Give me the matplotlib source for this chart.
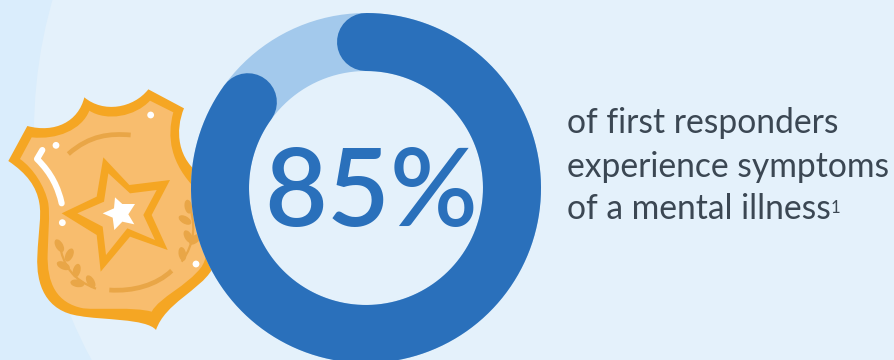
import numpy as np
import matplotlib
matplotlib.use('Agg')
import matplotlib.pyplot as plt
from matplotlib.path import Path
from matplotlib.patches import PathPatch, Circle, Ellipse, Polygon

# --- data ---
share = 85
caption_lines = ['of first responders', 'experience symptoms', 'of a mental illness']
footnote = '1'

BLUE = '#2a70bb'
TRACK = '#a3c9ec'
BG_LEFT = '#daedfc'
BG_RIGHT = '#e4f1fb'
TEXT = '#3b4753'
ORANGE = '#f5a623'
ORANGE_FILL = '#f8bd6e'
ORANGE_DARK = '#e9a647'

W, H = 895, 360
fig = plt.figure(figsize=(W / 100, H / 100), dpi=100, facecolor=BG_LEFT)
ax = fig.add_axes([0, 0, 1, 1])
ax.set_xlim(0, W)
ax.set_ylim(H, 0)
ax.axis('off')

# big pale disc behind everything
ax.add_patch(Circle((514, 132), 480, fc=BG_RIGHT, ec='none', zorder=0))


def px(x, y):
    # badge was sketched at 3x, origin (0, 80)
    return (x / 3, y / 3 + 80)


def bez(start, *segs):
    verts = [px(*start)]
    codes = [Path.MOVETO]
    for seg in segs:
        if len(seg) == 1:
            verts.append(px(*seg[0]))
            codes.append(Path.LINETO)
        else:
            verts += [px(*p) for p in seg]
            codes += [Path.CURVE4] * 3
    return Path(verts, codes)


def flat(points, color, z):
    ax.add_patch(Polygon([px(*p) for p in points], closed=True, fc=color, ec='none', zorder=z))


# --- badge ---
shield_outer = bez((25, 243),
                   [(82, 138)],
                   [(165, 160), (235, 125), (253, 52)],
                   [(310, 100), (400, 85), (445, 28)],
                   [(552, 85)],
                   [(525, 150), (530, 240), (610, 290)],
                   [(690, 400), (680, 500), (635, 570)],
                   [(600, 630), (495, 670), (468, 750)],
                   [(440, 715), (300, 720), (240, 708)],
                   [(135, 695), (108, 610), (112, 530)],
                   [(115, 450), (125, 410), (118, 370)],
                   [(110, 320), (80, 280), (25, 243)])
shield_inner = bez((60, 237),
                   [(95, 172)],
                   [(170, 180), (245, 150), (268, 92)],
                   [(320, 125), (405, 110), (450, 62)],
                   [(520, 97)],
                   [(500, 170), (510, 250), (590, 330)],
                   [(640, 400), (640, 500), (605, 560)],
                   [(560, 620), (480, 650), (455, 695)],
                   [(400, 680), (300, 690), (250, 685)],
                   [(170, 670), (140, 610), (143, 520)],
                   [(145, 450), (150, 410), (145, 370)],
                   [(135, 320), (100, 265), (60, 237)])
ax.add_patch(PathPatch(shield_outer, fc=ORANGE, ec='none', zorder=2))
ax.add_patch(PathPatch(shield_inner, fc=ORANGE_FILL, ec='none', zorder=2.1))

flat([(310, 232), (388, 315), (510, 300), (455, 405), (503, 510),
      (390, 470), (302, 575), (290, 465), (185, 400), (290, 350)], ORANGE, 3)
flat([(325, 280), (390, 340), (470, 330), (430, 405), (465, 480),
      (382, 445), (318, 525), (308, 440), (232, 400), (312, 365)], ORANGE_FILL, 3.1)
flat([(345, 352), (367, 372), (405, 372), (385, 403), (403, 433),
      (367, 425), (343, 450), (338, 413), (308, 400), (342, 385)], 'white', 4)

for p in [(452, 105), (168, 196), (187, 428), (588, 552)]:
    ax.add_patch(Circle(px(*p), 3.4, fc='white', ec='none', zorder=4))

# highlight on the left edge
shine = bez((127, 210), [(111, 237)], [(155, 280), (175, 325), (185, 370)])
ax.add_patch(PathPatch(shine, fc='none', ec='white', lw=4.4, capstyle='round', joinstyle='round', zorder=4))

# engraved arcs
for arc in [bez((205, 222), [(270, 165), (330, 160), (392, 165)]),
            bez((328, 630), [(400, 635), (470, 615), (515, 572)])]:
    ax.add_patch(PathPatch(arc, fc='none', ec=ORANGE_DARK, lw=3.4, capstyle='butt', zorder=3))

# laurel sprigs
for stem in [bez((178, 490), [(190, 560), (220, 600), (288, 626)]),
             bez((563, 365), [(590, 430), (585, 490), (545, 545)])]:
    ax.add_patch(PathPatch(stem, fc='none', ec=ORANGE_DARK, lw=1.6, zorder=3))
leaves = [(178, 497, 60), (208, 525, -65), (190, 557, 25), (230, 572, -75),
          (232, 610, 10), (272, 605, 60),
          (565, 380, 80), (555, 420, 30), (565, 470, 60), (547, 522, 80), (585, 478, -40)]
for x, y, ang in leaves:
    ax.add_patch(Ellipse(px(x, y), 14, 7.5, angle=ang, fc=ORANGE_DARK, ec='none', zorder=3))

# --- donut ---
cx, cy, r = 366, 188, 146
ring_pt = 58 * 72 / 100
t_full = np.linspace(0, 2 * np.pi, 400)
ax.plot(cx + r * np.sin(t_full), cy - r * np.cos(t_full), color=TRACK, lw=ring_pt,
        solid_capstyle='butt', zorder=5)
t_val = np.linspace(0, share / 100 * 2 * np.pi, 400)
ax.plot(cx + r * np.sin(t_val), cy - r * np.cos(t_val), color=BLUE, lw=ring_pt,
        solid_capstyle='round', zorder=6)

ax.text(371, 226, f'{share}%', family='Lato', fontsize=78, fontweight='semibold', color=BLUE,
        ha='center', va='baseline', zorder=7)

# --- caption ---
last = None
for line, y in zip(caption_lines, [133, 177, 219]):
    last = ax.text(567, y, line, family='Lato', fontsize=24.2, color=TEXT, ha='left', va='baseline', zorder=7)
ax.annotate(footnote, xy=(1, 0), xycoords=last, xytext=(0, 9), textcoords='offset pixels',
            family='Lato', fontsize=12, color=TEXT, ha='left', va='bottom', zorder=7)

fig.savefig('out.png', dpi=100, facecolor=fig.get_facecolor())
